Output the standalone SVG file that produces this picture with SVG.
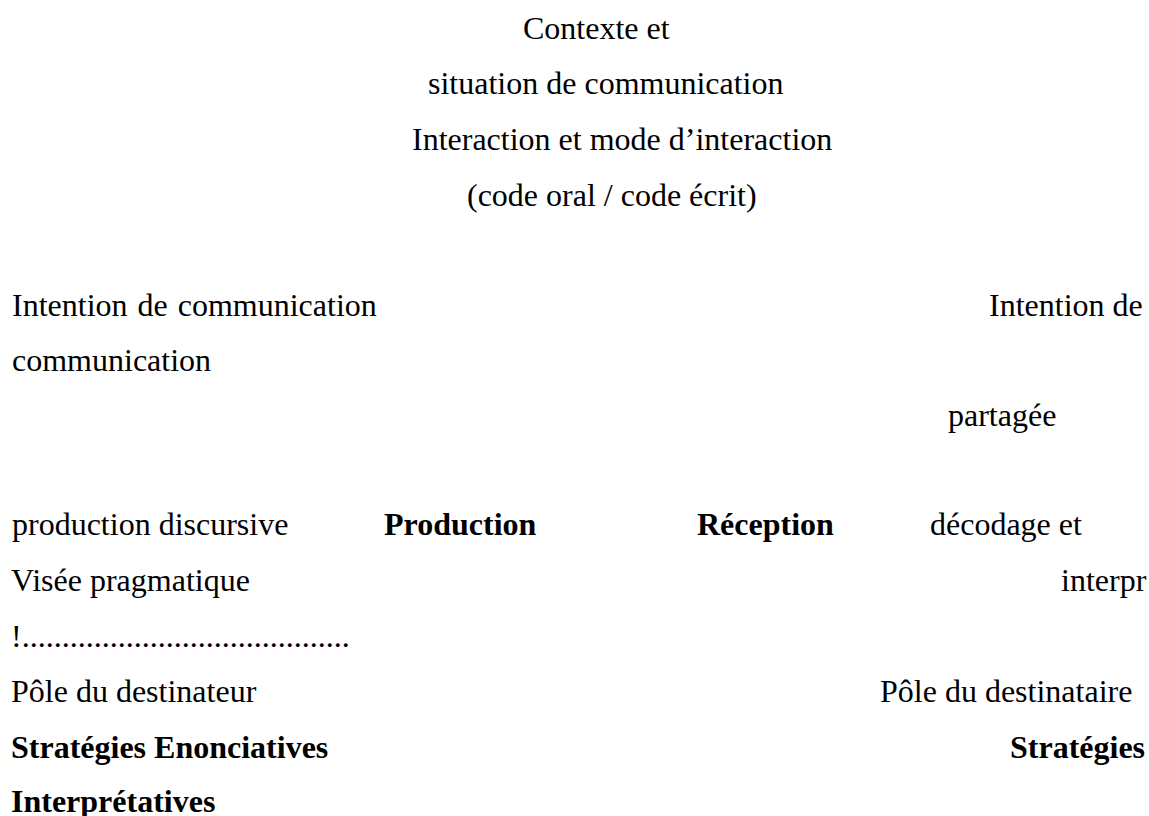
<svg xmlns="http://www.w3.org/2000/svg" width="1149" height="816" viewBox="0 0 1149 816">
  <style>
    text { font-family: "Liberation Serif", "Times New Roman", serif; font-size: 32px; fill: #000; }
    .b { font-weight: bold; }
  </style>
  <rect width="1149" height="816" fill="#fff"/>

  <!-- shared context at the top -->
  <g id="context">
    <text x="523" y="39">Contexte et</text>
    <text x="428" y="94">situation de communication</text>
    <text x="412" y="150">Interaction et mode d’interaction</text>
    <text x="467" y="206">(code oral / code écrit)</text>
  </g>

  <!-- communicative intention, both sides -->
  <g id="intention">
    <text x="12" y="316" word-spacing="2">Intention de communication</text>
    <text x="989" y="316">Intention de</text>
    <text x="12" y="371">communication</text>
    <text x="948" y="426">partagée</text>
  </g>

  <!-- production / reception row -->
  <g id="production-reception">
    <text x="12" y="535">production discursive</text>
    <text class="b" x="384" y="535">Production</text>
    <text class="b" x="697" y="535">Réception</text>
    <text x="930" y="535">décodage et</text>
    <text x="11" y="591">Visée pragmatique</text>
    <text x="1061" y="591">interpr</text>
    <text x="11" y="647">!.........................................</text>
  </g>

  <!-- sender and receiver poles -->
  <g id="poles">
    <text x="11" y="702">Pôle du destinateur</text>
    <text x="880" y="702">Pôle du destinataire</text>
    <text class="b" x="11" y="758">Stratégies Enonciatives</text>
    <text class="b" x="1010" y="758">Stratégies</text>
    <text class="b" x="11" y="812">Interprétatives</text>
  </g>
</svg>
